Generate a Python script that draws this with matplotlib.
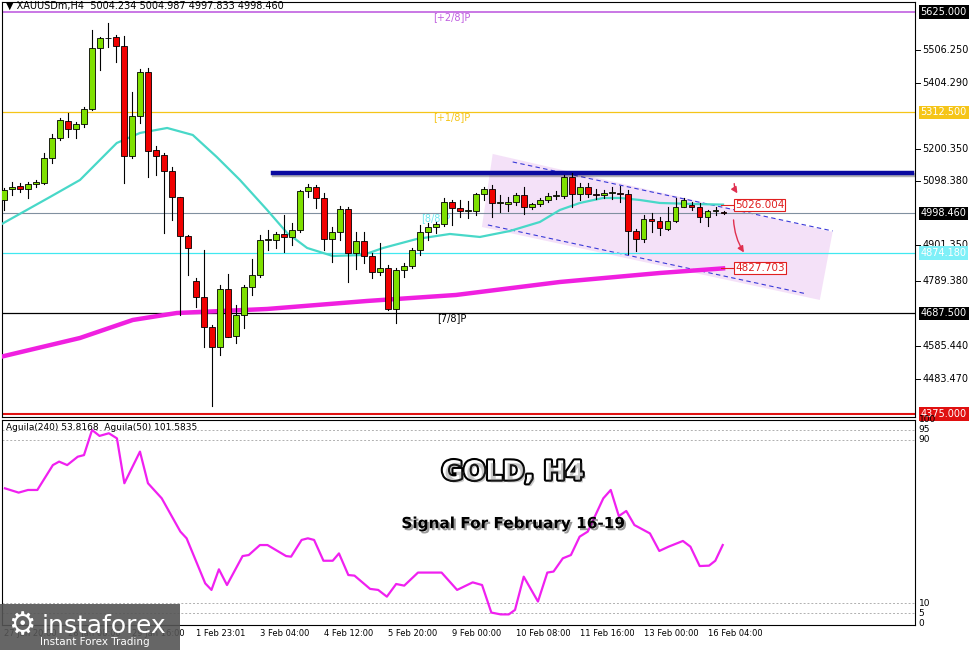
import matplotlib
matplotlib.use("Agg")
import matplotlib.pyplot as plt
import matplotlib.patheffects as pe
from matplotlib.patches import Polygon, Rectangle, FancyArrowPatch
from matplotlib.transforms import blended_transform_factory

# H4 candles (open, high, low, close)
opens = [5040.4, 5073.6, 5084.0, 5073.6, 5090.1, 5094.3, 5170.0, 5232.2, 5287.1, 5260.1,
         5275.7, 5322.3, 5512.0, 5543.1, 5546.2, 5520.3, 5178.3, 5302.6, 5437.4, 5195.9,
         5180.3, 5131.6, 5048.7, 4929.5, 4789.6, 4737.7, 4644.5, 4584.3, 4762.6, 4617.5,
         4682.8, 4770.9, 4806.2, 4916.0, 4916.0, 4933.6, 4924.3, 4947.1, 5067.4, 5081.9,
         5045.6, 4918.1, 4939.9, 5011.4, 4876.7, 4911.9, 4866.3, 4817.6, 4828.0, 4700.4,
         4822.7, 4836.2, 4885.0, 4939.9, 4955.4, 4964.7, 5033.1, 5014.5, 5007.2, 5007.2,
         5058.0, 5073.6, 5030.1, 5028.0, 5033.2, 5056.0, 5017.6, 5028.0, 5040.4, 5052.9,
         5052.9, 5113.0, 5058.0, 5081.9, 5058.0, 5056.0, 5061.2, 5061.2, 5058.0, 4944.0,
         4918.1, 4980.3, 4975.1, 4949.2, 4975.1, 5019.7, 5024.9, 5017.6, 4986.5, 5006.2,
         5004.2]
highs = [5076.7, 5097.4, 5092.2, 5097.4, 5102.6, 5187.6, 5244.6, 5294.3, 5309.9, 5284.0,
         5330.6, 5569.0, 5548.3, 5591.8, 5553.5, 5550.4, 5377.3, 5446.7, 5449.8, 5209.4,
         5185.5, 5144.1, 5050.8, 4931.6, 4796.8, 4884.9, 4651.7, 4776.1, 4810.3, 4713.9,
         4776.1, 4855.9, 4931.6, 4947.1, 4941.9, 4993.8, 4967.9, 5071.5, 5089.1, 5087.0,
         5061.1, 4957.5, 5021.7, 5017.6, 4940.9, 4941.9, 4876.7, 4905.7, 4838.3, 4828.0,
         4843.5, 4890.1, 4961.6, 4967.9, 4973.0, 5045.6, 5040.4, 5040.4, 5038.3, 5063.2,
         5081.9, 5087.1, 5056.0, 5050.8, 5061.2, 5079.8, 5032.1, 5045.6, 5061.2, 5069.4,
         5118.2, 5123.3, 5092.3, 5094.3, 5073.6, 5071.5, 5079.8, 5084.0, 5071.5, 4949.2,
         4993.8, 4999.0, 4988.6, 5019.7, 5045.6, 5045.6, 5035.2, 5030.1, 5009.3, 5017.6,
         5005.0]
lows = [5009.3, 5056.0, 5066.3, 5045.6, 5081.9, 5090.1, 5154.4, 5227.0, 5237.3, 5232.2,
        5268.4, 5320.3, 5444.6, 5517.2, 5470.5, 5092.2, 5170.0, 5278.8, 5113.0, 5118.2,
        4936.8, 4978.2, 4682.8, 4807.2, 4708.7, 4584.3, 4399.8, 4558.4, 4613.4, 4594.7,
        4641.3, 4745.0, 4802.0, 4885.0, 4890.1, 4879.8, 4900.5, 4941.9, 5050.8, 5014.5,
        4885.0, 4848.7, 4916.0, 4786.5, 4824.8, 4843.5, 4796.8, 4807.2, 4698.4, 4656.9,
        4802.0, 4828.0, 4869.4, 4916.0, 4936.8, 4959.5, 4962.7, 4988.6, 4983.4, 4993.8,
        5040.4, 4988.6, 5004.2, 5007.3, 5024.9, 4996.9, 5011.4, 5021.8, 5035.2, 5042.5,
        5045.6, 5017.6, 5040.4, 5050.8, 5042.5, 5045.6, 5042.5, 5035.2, 4872.5, 4882.9,
        4910.9, 4942.0, 4931.6, 4947.1, 4973.1, 5017.6, 5009.3, 4973.1, 4959.6, 4993.8,
        4997.8]
closes = [5071.5, 5081.9, 5073.6, 5090.1, 5096.4, 5170.0, 5232.2, 5289.2, 5260.1, 5275.7,
          5322.3, 5512.0, 5543.1, 5545.2, 5520.3, 5178.3, 5302.6, 5437.4, 5193.8, 5178.3,
          5131.6, 5048.7, 4929.5, 4890.1, 4737.7, 4644.5, 4584.3, 4762.6, 4615.4, 4682.8,
          4770.9, 4806.2, 4916.0, 4917.0, 4933.6, 4924.3, 4947.1, 5067.4, 5081.9, 5045.6,
          4918.1, 4939.9, 5011.4, 4876.7, 4911.9, 4866.3, 4817.6, 4828.0, 4700.4, 4822.7,
          4836.2, 4885.0, 4939.9, 4955.4, 4964.7, 5033.1, 5014.5, 5006.2, 5007.2, 5058.0,
          5074.6, 5030.1, 5030.1, 5035.2, 5056.0, 5017.6, 5028.0, 5040.4, 5052.9, 5052.9,
          5113.0, 5058.0, 5081.9, 5058.0, 5057.0, 5063.2, 5061.2, 5060.2, 4944.0, 4918.1,
          4980.3, 4975.1, 4952.3, 4975.1, 5019.7, 5040.4, 5017.6, 4986.5, 5006.2, 5006.2,
          4998.5]

# moving averages (bar index, price)
ma_fast_x = [-0.5, 5.75, 9.5, 14.1, 17, 20.4, 23.6, 26.6, 29.5, 32.9, 35.4, 37.9, 41.1, 44.9,
             47.4, 51.6, 55.75, 59.5, 63.25, 67, 69.5, 72, 74.9, 77, 79.5, 82, 86.1, 89.9]
ma_fast_y = [4962.7, 5049.7, 5102.6, 5217.6, 5248.8, 5264.3, 5242.5, 5174.1, 5102.6, 5009.3,
             4937.8, 4891.2, 4866.3, 4869.4, 4891.2, 4919.1, 4934.7, 4925.4, 4944.0, 4972.0,
             5009.3, 5031.1, 5046.6, 5046.6, 5040.4, 5031.1, 5028.0, 5026.0]
ma_slow_x = [-0.5, 9.5, 16.1, 21.6, 32.9, 45.4, 56.5, 69.5, 82, 89.9]
ma_slow_y = [4552.2, 4611.3, 4667.3, 4689.0, 4701.5, 4726.4, 4745.0, 4785.4, 4813.4, 4827.7]

# Aguila oscillator
osc_x = [0.12, 1.83, 3.0, 4.17, 6.11, 6.89, 7.9, 9.22, 10.0, 11.01, 11.94, 13.11, 14.12, 15.05,
         17.0, 18.0, 19.72, 22.05, 22.83, 25.16, 25.94, 26.87, 27.88, 29.83, 30.6, 32.0, 32.94,
         35.27, 35.89, 37.21, 37.99, 38.77, 39.94, 41.1, 41.88, 43.05, 43.82, 45.77, 46.78,
         47.87, 49.03, 50.04, 51.76, 54.71, 56.65, 58.6, 59.77, 60.93, 62.1, 63.11, 63.89,
         64.98, 66.76, 67.93, 68.71, 69.87, 70.88, 71.97, 72.99, 74.93, 75.86, 76.87, 77.8,
         78.82, 80.76, 81.93, 83.09, 84.88, 85.82, 86.98, 88.15, 88.93, 89.86]
osc_y = [66.3, 64.2, 65.5, 65.5, 77.7, 79.4, 77.7, 81.8, 82.6, 94.9, 92.0, 93.3, 90.8, 68.8,
         84.3, 68.8, 61.4, 45.1, 41.8, 19.7, 16.5, 26.6, 18.9, 33.1, 33.6, 38.5, 38.5, 33.1,
         32.8, 41.0, 41.8, 41.0, 30.8, 30.8, 34.4, 23.8, 23.5, 17.0, 16.5, 13.2, 19.4, 18.6,
         25.0, 25.0, 16.5, 20.2, 18.9, 5.4, 4.5, 4.5, 6.7, 23.0, 10.8, 25.0, 25.5, 32.0, 33.6,
         42.6, 45.1, 61.4, 65.5, 52.7, 55.2, 48.3, 44.2, 35.6, 37.7, 40.5, 37.7, 28.2, 28.4,
         30.8, 38.5]

date_pos = [0, 8, 16, 24, 32, 40, 48, 56, 64, 72, 80, 88]
date_labels = ["27 Jan 20:00", "28 Jan 08:00", "29 Jan 16:00", "1 Feb 23:01", "3 Feb 04:00",
               "4 Feb 12:00", "5 Feb 20:00", "9 Feb 00:00", "10 Feb 08:00", "11 Feb 16:00",
               "13 Feb 00:00", "16 Feb 04:00"]

price_ticks = [5506.250, 5404.290, 5200.350, 5098.380, 4901.350, 4789.380, 4585.440, 4483.470]
resistance = 5124.4
target_top = 5026.004
target_bottom = 4827.703
last_price = 4998.460

W, H = 976, 650
fig = plt.figure(figsize=(W / 100, H / 100), dpi=100)
fig.patch.set_facecolor("white")

ax = fig.add_axes([2 / W, (H - 417) / H, 913 / W, 415 / H])
ax.set_xlim(-0.25, 113.9)
ax.set_ylim(4365.6, 5656)
ax.set_xticks([])
ax.set_yticks([])
for s in ax.spines.values():
    s.set_color("black")

# channel
ax.add_patch(Polygon([(61.1, 5183.5), (103.6, 4940.9), (102, 4729.5), (59.75, 4956.4)],
                     closed=True, facecolor="#f3dcf7", edgecolor="none", alpha=0.85, zorder=1))
ax.plot([63.6, 103.6], [5158.6, 4944.0], color="#3a3ad8", lw=0.8, ls=(0, (4, 3)), zorder=2)
ax.plot([60.5, 100.4], [4962.7, 4748.1], color="#3a3ad8", lw=0.8, ls=(0, (4, 3)), zorder=2)

# murrey levels
ax.axhline(5625, color="#c060e0", lw=1.2, zorder=2)
ax.axhline(5312.5, color="#f5c518", lw=0.9, zorder=2)
ax.axhline(last_price, color="#8090a0", lw=0.8, zorder=2)
ax.axhline(4874.18, color="#40e8f0", lw=0.9, zorder=2)
ax.axhline(4687.5, color="black", lw=0.9, zorder=2)
ax.axhline(4375, color="#e01010", lw=1.5, zorder=2)
ax.text(56, 5600, "[+2/8]P", color="#c060e0", fontsize=7, ha="center")
ax.text(56, 5290, "[+1/8]P", color="#f5c518", fontsize=7, ha="center")
ax.text(54, 4975, "[8/8]P", color="#70e8f0", fontsize=7, ha="center")
ax.text(56, 4665, "[7/8]P", color="black", fontsize=7, ha="center")

ax.plot([33.6, 113.5], [resistance, resistance], color="#0a0aa0", lw=3.2, zorder=3,
        path_effects=[pe.SimpleLineShadow(offset=(1, -1.5), alpha=0.3), pe.Normal()])

ax.plot(ma_fast_x, ma_fast_y, color="#48d8c8", lw=1.6, zorder=3)
ax.plot(ma_slow_x, ma_slow_y, color="#f020e0", lw=3.2, zorder=3)

for i, (o, h, l, c) in enumerate(zip(opens, highs, lows, closes)):
    ax.plot([i, i], [l, h], color="black", lw=0.8, zorder=4)
    col = "#7ee000" if c >= o else "#f00000"
    bottom, height = min(o, c), max(abs(c - o), 2.5)
    ax.add_patch(Rectangle((i - 0.33, bottom), 0.66, height, facecolor=col,
                           edgecolor="black", lw=0.6, zorder=5))

# targets
for val in (target_top, target_bottom):
    ax.plot([89.6, 91.2], [val, val], color="#e02020", lw=0.8, zorder=6)
    ax.text(91.4, val, f"{val:.3f}", color="#e02020", fontsize=7.5, va="center", zorder=6,
            bbox=dict(boxstyle="square,pad=0.1", fc="white", ec="#e02020", lw=0.8))
ax.add_patch(FancyArrowPatch((91.3, 5100), (91.9, 5054), arrowstyle="-|>", mutation_scale=9,
                             color="#e03050", lw=1, connectionstyle="arc3,rad=0.2", zorder=6))
ax.add_patch(FancyArrowPatch((91.2, 4987), (92.7, 4870), arrowstyle="-|>", mutation_scale=9,
                             color="#e03050", lw=1, connectionstyle="arc3,rad=0.15", zorder=6))

ax.text(0.3, 5630, "\u25bc XAUUSDm,H4  5004.234 5004.987 4997.833 4998.460", fontsize=7,
        va="bottom", zorder=7)

# right price axis
tr = blended_transform_factory(ax.transAxes, ax.transData)
for p in price_ticks:
    ax.plot([1.0, 1.006], [p, p], color="black", lw=0.7, transform=tr, clip_on=False)
    ax.text(1.008, p, f"{p:.3f}", fontsize=7, va="center", transform=tr)
boxed = [(5625.0, "black", "white"), (5312.5, "#f5c518", "white"), (last_price, "black", "white"),
         (4874.18, "#7ef0f8", "white"), (4687.5, "black", "white"), (4375.0, "#e01010", "white")]
for p, fc, tc in boxed:
    ax.text(1.006, p, f"{p:.3f}", fontsize=7, va="center", color=tc, transform=tr,
            bbox=dict(boxstyle="square,pad=0.2", fc=fc, ec="none"))

# oscillator panel
ax2 = fig.add_axes([2 / W, 25 / H, 913 / W, 205 / H])
ax2.set_xlim(-0.25, 113.9)
ax2.set_ylim(-0.7, 99.8)
ax2.set_xticks([])
ax2.set_yticks([])
for lvl in (95, 90, 10, 5):
    ax2.axhline(lvl, color="#b0b0b0", lw=0.7, ls=(0, (2, 2)))
ax2.plot(osc_x, osc_y, color="#f020f0", lw=1.6)
tr2 = blended_transform_factory(ax2.transAxes, ax2.transData)
for lvl in (100, 95, 90, 10, 5, 0):
    ax2.text(1.004, lvl, str(lvl), fontsize=6.5, va="center", transform=tr2)
ax2.text(0.004, 0.985, "Aguila(240) 53.8168  Aguila(50) 101.5835", fontsize=6.5,
         transform=ax2.transAxes, va="top")
ax2.text(63.6, 74, "GOLD, H4", fontsize=19, fontweight="bold", color="white", ha="center",
         va="center", path_effects=[pe.withStroke(linewidth=3, foreground="black"),
                                    pe.SimplePatchShadow()])
ax2.text(63.6, 49, "Signal For February 16-19", fontsize=11, fontweight="bold",
         color="black", ha="center", va="center",
         path_effects=[pe.withSimplePatchShadow(offset=(1.5, -1.5), alpha=0.4)])

for pos, lab in zip(date_pos, date_labels):
    ax2.text(pos, -2.5, lab, fontsize=6, va="top", ha="left", clip_on=False)

# logo block
fig.patches.append(Rectangle((0, 0), 180 / W, 46 / H, transform=fig.transFigure,
                             facecolor="#555555", edgecolor="none", alpha=0.9, zorder=10))
fig.text(42 / W, 24 / H, "instaforex", color="white", fontsize=18, va="center", zorder=11)
fig.text(40 / W, 8 / H, "Instant Forex Trading", color="white", fontsize=7.5, va="center",
         zorder=11)
fig.text(8 / W, 24 / H, "\u2699", color="white", fontsize=22, va="center", zorder=11)

fig.savefig("out.png", dpi=100)
